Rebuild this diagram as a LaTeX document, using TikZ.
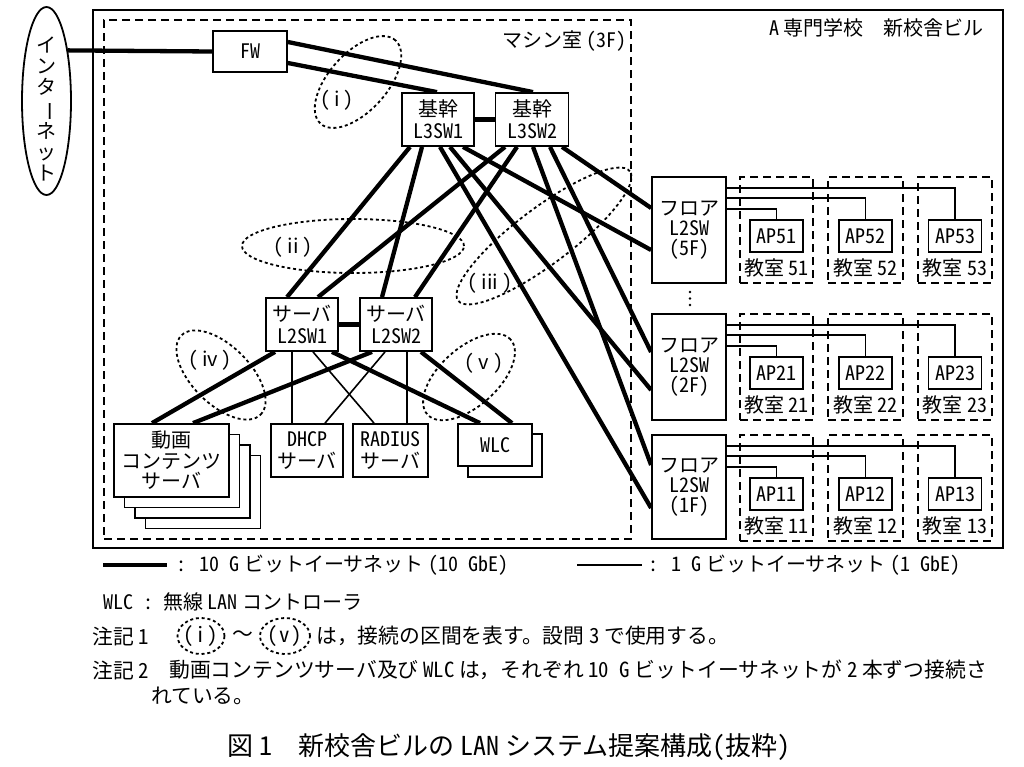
\documentclass[tikz,border=0pt]{standalone}
\usepackage{fontspec}
\newfontfamily\jp{Noto Sans CJK JP}
\newfontfamily\hw[RawFeature=+hwid]{Noto Sans CJK JP}
\newcommand\hwt[1]{{\hw #1}}
\newcommand\secl[1]{\hwt{(}\kern4pt #1\kern4pt\hwt{)}}
\usetikzlibrary{shapes.geometric,calc,backgrounds}
\tikzset{
 txt/.style={font=\jp\fontsize{20}{22}\selectfont, inner sep=0pt},
 notetxt/.style={font=\jp\fontsize{20.8}{22}\selectfont, inner sep=0pt},
 box/.style={txt, draw, line width=1.8pt, fill=white, align=center},
 roombox/.style={draw, line width=1.8pt, dash pattern=on 8pt off 5pt, inner sep=0pt},
 sect/.style={draw, ellipse, line width=1.8pt, dash pattern=on 3pt off 2.8pt, inner sep=0pt},
 gbeten/.style={line width=4.3pt},
 gbeone/.style={line width=1.6pt},
}
\begin{document}
\begin{tikzpicture}[x=1pt,y=-1pt]
\useasboundingbox (0,0) rectangle (1024,766);
% frames
\node[draw, line width=2pt, minimum width=910pt, minimum height=538pt, inner sep=0pt] (bldg) at (548,279) {};
\node[roombox, minimum width=527pt, minimum height=519pt] (mroom) at (367.5,279.5) {};
\node[txt, anchor=east] (bname) at (984,28) {\hwt{A} 専門学校　新校舎ビル};
\node[txt, anchor=east] (mname) at (627,41) {マシン室 \hwt{(3F)}};
% internet
\node[draw, ellipse, line width=1.8pt, minimum width=49pt, minimum height=188pt, inner sep=0pt] (inet) at (46.5,101) {};
\node[txt, align=center, font=\jp\fontsize{20}{21}\selectfont] (inettxt) at (46.5,109) {イ\\ン\\タ\\\rotatebox[origin=c]{-90}{ー}\\ネ\\ッ\\ト};
% devices
\node[box, minimum width=74pt, minimum height=41pt] (fw) at (250,51.5) {\hwt{FW}};
\node[box, minimum width=72pt, minimum height=53pt] (c1) at (438,119.5) {基幹\\\hwt{L3SW1}};
\node[box, minimum width=73pt, minimum height=53pt] (c2) at (532,119.5) {基幹\\\hwt{L3SW2}};
\node[box, minimum width=72pt, minimum height=53pt] (s1) at (302,324.5) {サーバ\\\hwt{L2SW1}};
\node[box, minimum width=72pt, minimum height=53pt] (s2) at (396,324.5) {サーバ\\\hwt{L2SW2}};
\node[box, minimum width=115pt, minimum height=73pt] (v4) at (203,492) {};
\node[box, minimum width=115pt, minimum height=73pt] (v3) at (192.5,481.5) {};
\node[box, minimum width=115pt, minimum height=73pt] (v2) at (182,471) {};
\node[box, minimum width=115pt, minimum height=73pt, font=\jp\fontsize{20}{20.5}\selectfont] (v1) at (171.5,460.5) {動画\\コンテンツ\\サーバ};
\node[box, minimum width=72pt, minimum height=53pt] (dhcp) at (307,450.5) {\hwt{DHCP}\\サーバ};
\node[box, minimum width=75pt, minimum height=53pt] (rad) at (390.5,450.5) {\hwt{RADIUS}\\サーバ};
\node[box, minimum width=74pt, minimum height=43pt] (w2) at (505,455.5) {};
\node[box, minimum width=74pt, minimum height=42pt] (w1) at (495,445) {\hwt{WLC}};
\node[box, minimum width=74pt, minimum height=106pt, font=\jp\fontsize{20}{20}\selectfont] (f5) at (689,230) {フロア\\\hwt{L2SW}\\\hwt{(5F)}};
\node[box, minimum width=74pt, minimum height=106pt, font=\jp\fontsize{20}{20}\selectfont] (f2) at (689,367) {フロア\\\hwt{L2SW}\\\hwt{(2F)}};
\node[box, minimum width=74pt, minimum height=104pt, font=\jp\fontsize{20}{20}\selectfont] (f1) at (689,487) {フロア\\\hwt{L2SW}\\\hwt{(1F)}};
\foreach \y in {292,298.5,305} \fill (690,\y) circle (1.4pt);
% rooms and APs
\foreach \fl/\T in {5/177,2/314,1/435}{
  \foreach \k/\cx/\w in {1/776.5/73pt,2/865.5/75pt,3/955/74pt}{
    \node[roombox, minimum width=\w, minimum height=106pt] (r\fl\k) at (\cx,\T+53) {};
    \node[box, minimum width=53pt, minimum height=32pt] (ap\fl\k) at (\cx,\T+59) {\hwt{AP\fl\k}};
    \node[txt] (lab\fl\k) at (\cx,\T+91) {教室 \hwt{\fl\k}};
  }
}
% connectors
\begin{pgfonlayer}{background}
\draw[gbeten] (inet.67) -- (fw.west);
\draw[gbeten] ($(fw.east)+(0,-9.5)$) -- ($(c2.north)+(1,0)$);
\draw[gbeten] ($(fw.east)+(0,11.5)$) -- ($(c1.north)+(-1,0)$);
\draw[gbeten] (c1.east) -- (c2.west);
\draw[gbeten] ($(c1.south)+(-28,0)$) -- ($(s1.north)+(-15,0)$);
\draw[gbeten] ($(c1.south)+(-16,0)$) -- ($(s2.north)+(-14,0)$);
\draw[gbeten] ($(c2.south)+(-27,0)$) -- ($(s1.north)+(16,0)$);
\draw[gbeten] ($(c2.south)+(-15,0)$) -- ($(s2.north)+(19,0)$);
\draw[gbeten] ($(c2.south)+(30,0)$) -- ($(f5.west)+(0,-22)$);
\draw[gbeten] ($(c1.south)+(25,0)$) -- ($(f5.west)+(0,20)$);
\draw[gbeten] ($(c2.south)+(18,0)$) -- ($(f2.west)+(0,-15)$);
\draw[gbeten] ($(c1.south)+(12,0)$) -- ($(f2.west)+(0,23)$);
\draw[gbeten] ($(c2.south)+(1,0)$) -- ($(f1.west)+(0,-22)$);
\draw[gbeten] ($(c1.south)+(2,0)$) -- ($(f1.west)+(0,21)$);
\draw[gbeten] (s1.east) -- (s2.west);
\draw[gbeten] ($(s1.south)+(-27,0)$) -- ($(v1.north)+(-19.5,0)$);
\draw[gbeten] ($(s2.south)+(-24,0)$) -- ($(v1.north)+(21.5,0)$);
\draw[gbeone] ($(s1.south)+(-10,0)$) -- ($(dhcp.north)+(-15,0)$);
\draw[gbeone] ($(s2.south)+(-11,0)$) -- ($(dhcp.north)+(18,0)$);
\draw[gbeone] ($(s1.south)+(11,0)$) -- ($(rad.north)+(-16.5,0)$);
\draw[gbeone] ($(s2.south)+(11,0)$) -- ($(rad.north)+(16.5,0)$);
\draw[gbeten] ($(s1.south)+(30,0)$) -- ($(w1.north)+(-15,0)$);
\draw[gbeten] ($(s2.south)+(25,0)$) -- ($(w1.north)+(17,0)$);
\foreach \fl in {5,2,1}{
  \draw[gbeone] ($(f\fl.north east)+(0,12)$) -| (ap\fl3.north);
  \draw[gbeone] ($(f\fl.north east)+(0,22)$) -| (ap\fl2.north);
  \draw[gbeone] ($(f\fl.north east)+(0,33)$) -| (ap\fl1.north);
}
\end{pgfonlayer}
% sections
\node[sect, minimum width=112pt, minimum height=58pt, rotate=48] (e1) at (358,82) {};
\node[sect, minimum width=222pt, minimum height=54pt] (e2) at (353,246) {};
\node[sect, minimum width=215pt, minimum height=56pt, rotate=37] (e3) at (544,236) {};
\node[sect, minimum width=112pt, minimum height=58pt, rotate=-45] (e4) at (221,375) {};
\node[sect, minimum width=112pt, minimum height=58pt, rotate=42] (e5) at (469,377) {};
\node[txt] (e1l) at (337,100) {\secl{i}};
\node[txt] (e2l) at (293,247) {\secl{ii}};
\node[txt] (e3l) at (490,283) {\secl{iii}};
\node[txt] (e4l) at (210,360) {\secl{iv}};
\node[txt] (e5l) at (484,363) {\secl{v}};
% legend
\coordinate (lga) at (103,565); \coordinate (lgb) at (167,565);
\draw[gbeten] (lga) -- (lgb);
\node[txt, anchor=west] (lgt1) at (176,565) {\hwt{: 10 G} ビットイーサネット \hwt{(10 GbE)}};
\coordinate (lgc) at (577,565); \coordinate (lgd) at (642,565);
\draw[gbeone] (lgc) -- (lgd);
\node[txt, anchor=west] (lgt2) at (648,565) {\hwt{: 1 G} ビットイーサネット \hwt{(1 GbE)}};
\node[txt, anchor=west] (wlcn) at (103,602) {\hwt{WLC : }無線 \hwt{LAN} コントローラ};
% notes
\node[notetxt, anchor=west] (n1a) at (92,636) {注記 \hwt{1}};
\node[sect, minimum width=47pt, minimum height=36pt] (n1e1) at (201,636) {};
\node[notetxt] (n1i) at (201,636) {\hwt{(\kern1.5pt i\kern1.5pt)}};
\node[notetxt] (n1t) at (243,636) {～};
\node[sect, minimum width=50pt, minimum height=36pt] (n1e5) at (285,636) {};
\node[notetxt] (n1v) at (285,636) {\hwt{(\kern1.5pt v\kern1.5pt)}};
\node[notetxt, anchor=west] (n1b) at (316,636) {は，接続の区間を表す。設問 \hwt{3} で使用する。};
\node[notetxt, anchor=west] (n2a) at (92,670) {注記 \hwt{2}};
\node[notetxt, anchor=west] (n2b) at (169,670) {動画コンテンツサーバ及び \hwt{WLC} は，それぞれ \hwt{10 G} ビットイーサネットが \hwt{2} 本ずつ接続さ};
\node[notetxt, anchor=west] (n2c) at (151,696) {れている。};
\node[txt, font=\jp\fontsize{26}{28}\selectfont] (cap) at (509,747) {図 \hwt{1}　新校舎ビルの \hwt{LAN} システム提案構成\hwt{(}抜粋\hwt{)}};
\end{tikzpicture}
\end{document}
